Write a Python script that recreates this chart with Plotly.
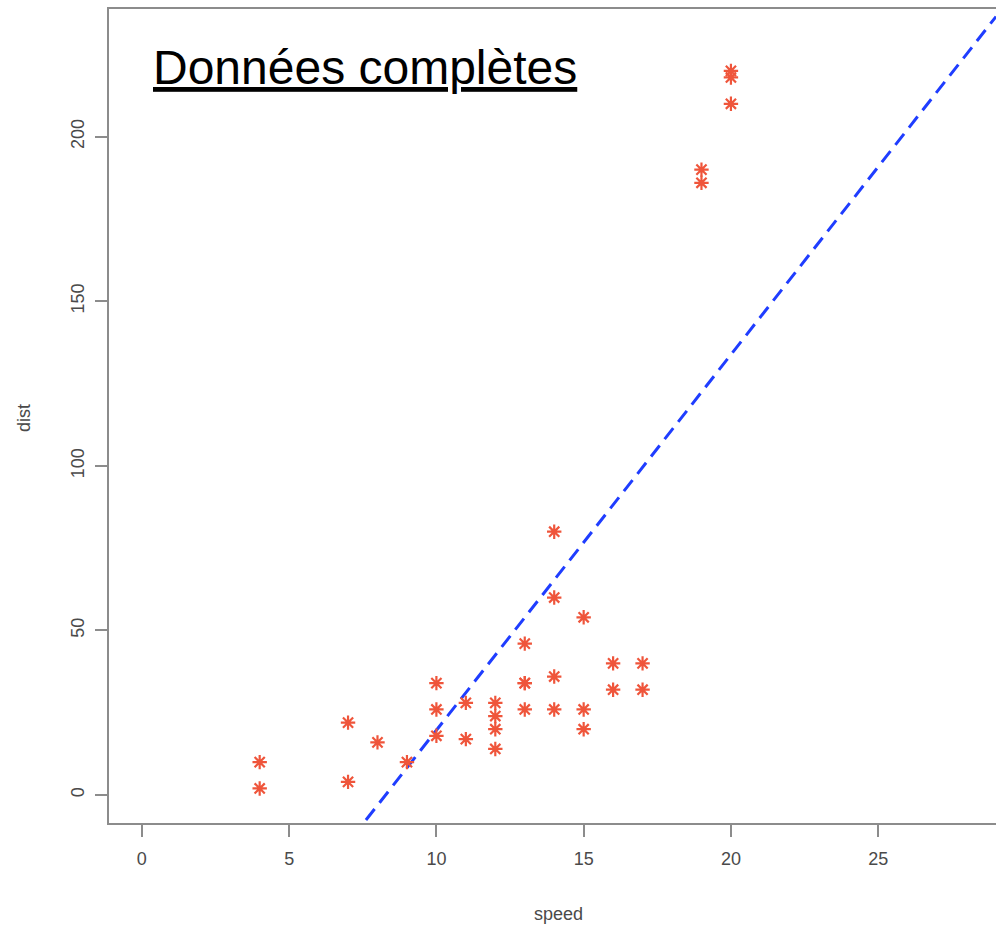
import numpy as np
import plotly.graph_objects as go

# ---- data ----
speed = [4, 4, 7, 7, 8, 9, 10, 10, 10, 11, 11, 12, 12, 12, 12, 13, 13, 13, 13,
         14, 14, 14, 14, 15, 15, 15, 16, 16, 17, 17, 19, 19, 20, 20, 20]
dist = [2, 10, 4, 22, 16, 10, 18, 26, 34, 17, 28, 14, 20, 24, 28, 26, 34, 34, 46,
        26, 36, 60, 80, 20, 26, 54, 32, 40, 32, 40, 186, 190, 210, 218, 220]
fit_intercept = -94.4
fit_slope = 11.41
x_ticks = [0, 5, 10, 15, 20, 25]
y_ticks = [0, 50, 100, 150, 200]
title_text = "Données complètes"
x_label = "speed"
y_label = "dist"

# ---- geometry ----
W, H = 996, 927
L, T, B = 108, 8, 824
PW, PH = W - L, B - T
xr = [-1.15, 29.0]
yr = [-8.8, 239.1]

def px(x):
    return (x - L) / PW

def py(y):
    return (B - y) / PH

FONT = "Liberation Sans, Arial, sans-serif"
GRAY = "#8c8c8c"

xl = np.array(xr)
yl = fit_intercept + fit_slope * xl

fig = go.Figure()
fig.add_trace(go.Scatter(
    x=xl, y=yl, mode="lines",
    line=dict(color="#1f3dff", width=3, dash="14px,8px"),
    hoverinfo="skip", showlegend=False))
fig.add_trace(go.Scatter(
    x=speed, y=dist, mode="markers",
    marker=dict(symbol="asterisk-open", size=12,
                line=dict(color="#ff1e1e", width=2.2)),
    showlegend=False))

axis_common = dict(
    showgrid=False, zeroline=False, showline=False,
    ticks="outside", ticklen=12, tickwidth=1.5, tickcolor=GRAY,
    tickfont=dict(family=FONT, size=18, color="#4a4a4a"),
)
fig.update_xaxes(range=xr, tickvals=x_ticks, ticklabelstandoff=6, **axis_common)
fig.update_yaxes(range=yr, tickvals=y_ticks, tickangle=-90, ticklabelstandoff=4,
                 **axis_common)

fig.update_layout(
    width=W, height=H, autosize=False,
    margin=dict(l=L, r=0, t=T, b=H - B),
    plot_bgcolor="white", paper_bgcolor="white",
    shapes=[dict(type="rect", xref="paper", yref="paper",
                 x0=0, x1=1.05, y0=0, y1=1,
                 line=dict(color=GRAY, width=2))],
    annotations=[
        dict(text="<u>" + title_text + "</u>", xref="paper", yref="paper",
             x=px(151), y=py(68), xanchor="left", yanchor="middle",
             showarrow=False, font=dict(family=FONT, size=48, color="black")),
        dict(text=x_label, xref="paper", yref="paper",
             x=px(558), y=py(914), xanchor="center", yanchor="middle",
             showarrow=False, font=dict(family=FONT, size=18, color="#4a4a4a")),
        dict(text=y_label, xref="paper", yref="paper",
             x=px(24), y=py(418), xanchor="center", yanchor="middle",
             textangle=-90,
             showarrow=False, font=dict(family=FONT, size=18, color="#4a4a4a")),
    ],
)

fig.write_html("out.html")
